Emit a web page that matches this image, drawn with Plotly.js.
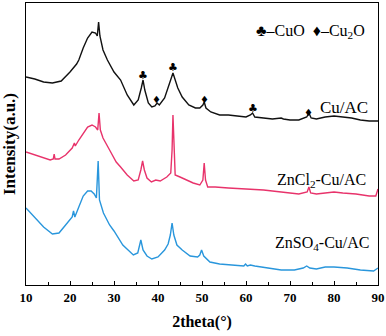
<!DOCTYPE html>
<html>
<head>
<meta charset="utf-8">
<script src="https://cdn.plot.ly/plotly-3.0.1.min.js"></script>
<style>
  html, body { margin: 0; padding: 0; background: #fff; }
  #chart { width: 386px; height: 336px; }
</style>
</head>
<body>
<div id="chart"></div>
<script>
// XRD patterns, intensity in arbitrary units (offset stacked)
var cuX = [10, 12, 14, 16, 18, 20, 21.5, 22, 23, 24, 25, 25.8, 26.2, 26.5, 26.8, 27.5, 28.5, 30, 31.5, 33, 34.5, 35.5, 36.2, 36.6, 37, 37.8, 38.6, 39.3, 39.8, 40.3, 41.5, 42.5, 43.1, 43.4, 43.8, 44.5, 45.5, 47, 48.5, 49.5, 50.2, 50.5, 50.9, 52, 54, 56, 58, 60, 61, 61.5, 62, 64, 66, 68, 68.5, 70, 72, 73.8, 74.3, 74.8, 76, 78, 80, 82, 84, 86, 88, 90];
var cuY = [208, 206, 203, 202, 204, 213, 221, 225, 237, 247, 253, 252, 249, 263, 249, 235, 225, 213, 205, 190, 180, 185, 197, 205, 195, 182, 178, 179, 182, 180, 187, 199, 208, 212, 207, 197, 188, 180, 177, 177, 180, 183, 177, 173, 170, 170, 169, 168, 170, 172, 168, 167, 166, 167, 166, 165, 165, 168, 172, 167, 166, 168, 169, 168, 167, 165, 164, 164];

var zncl2X = [10, 12, 14, 15.5, 16.2, 16.4, 16.6, 17.5, 19, 20.5, 21, 21.2, 22, 23, 24, 25, 25.8, 26.3, 26.6, 26.9, 27.5, 29, 30.5, 31.5, 33, 34.5, 35.5, 36.1, 36.5, 36.9, 37.5, 38.5, 39.5, 40.5, 42, 42.9, 43.2, 43.4, 43.6, 43.9, 45, 46.5, 48, 49.5, 50.2, 50.5, 50.8, 51.3, 53, 56, 60, 64, 68, 72, 73.9, 74.3, 74.7, 76, 78, 80, 82, 85, 88, 89.5, 90];
var zncl2Y = [133, 130, 127, 125, 126, 131, 126, 126, 130, 137, 142, 139, 145, 152, 158, 160, 158, 155, 172, 155, 147, 135, 123, 118, 110, 104, 105, 115, 124, 115, 107, 103, 105, 104, 108, 112, 135, 170, 135, 110, 108, 105, 102, 100, 105, 122, 105, 98, 98, 97, 96, 95, 93, 91, 93, 98, 92, 91, 92, 93, 92, 91, 89, 89, 96];

var znso4X = [10, 12, 14, 16, 17.5, 19, 20.5, 20.8, 21.1, 22, 23, 24, 24.8, 25.5, 26, 26.4, 26.7, 27.6, 29, 30, 32, 34.4, 35.4, 36.1, 36.6, 37.5, 38.6, 40, 41.5, 42.3, 42.8, 43.2, 43.6, 44.3, 45.5, 47.3, 49, 49.5, 49.9, 50.4, 51.8, 54, 57, 59.5, 59.9, 60.3, 61, 62, 65, 68, 71, 73, 73.8, 74.5, 76, 78, 80, 83, 86, 89, 90];
var znso4Y = [77, 67, 58, 51, 52, 60, 68, 74, 68, 78, 89, 94, 94, 91, 87, 124, 85, 72, 60, 54, 40, 30, 32, 45, 35, 29, 26, 28, 35, 41, 50, 62, 50, 40, 35, 29, 28, 30, 35, 29, 23, 21, 20, 19, 21, 19, 20, 19, 17, 15, 15, 17, 19, 17, 16, 18, 18, 17, 15, 14, 17];

var cuoPeaks = [36.6, 43.4, 61.5];
var cuoMarkY = [210, 218, 177];
var cu2oPeaks = [39.7, 50.5, 74.3];
var cu2oMarkY = [186, 186, 173];

var serif = 'Liberation Serif, Times New Roman, serif';

var traces = [
  {x: cuX, y: cuY, name: 'Cu/AC', mode: 'lines', line: {color: '#111111', width: 1.4}},
  {x: zncl2X, y: zncl2Y, name: 'ZnCl2-Cu/AC', mode: 'lines', line: {color: '#e8336b', width: 1.4}},
  {x: znso4X, y: znso4Y, name: 'ZnSO4-Cu/AC', mode: 'lines', line: {color: '#2996dc', width: 1.4}}
];

var annotations = [];
cuoPeaks.forEach(function (p, i) {
  annotations.push({x: p, y: cuoMarkY[i], xref: 'x', yref: 'y', text: '♣', showarrow: false,
    font: {family: 'DejaVu Sans', size: 11, color: '#000'}});
});
cu2oPeaks.forEach(function (p, i) {
  annotations.push({x: p, y: cu2oMarkY[i], xref: 'x', yref: 'y', text: '♦', showarrow: false,
    font: {family: 'DejaVu Sans', size: 10, color: '#000'}});
});
annotations.push(
  {x: 0.969, y: 0.94, xref: 'paper', yref: 'paper', xanchor: 'right', showarrow: false,
   text: '♣–CuO  ♦–Cu<sub>2</sub>O', font: {family: serif, size: 16, color: '#000'}},
  {x: 0.977, y: 0.631, xref: 'paper', yref: 'paper', xanchor: 'right', showarrow: false,
   text: 'Cu/AC', font: {family: serif, size: 17, color: '#000'}},
  {x: 0.972, y: 0.372, xref: 'paper', yref: 'paper', xanchor: 'right', showarrow: false,
   text: 'ZnCl<sub>2</sub>-Cu/AC', font: {family: serif, size: 16, color: '#000'}},
  {x: 0.983, y: 0.106, xref: 'paper', yref: 'paper', xanchor: 'right', showarrow: false,
   text: 'ZnSO<sub>4</sub>-Cu/AC', font: {family: serif, size: 16, color: '#000'}}
);

var layout = {
  width: 386, height: 336,
  margin: {l: 26, r: 8, t: 3, b: 51},
  showlegend: false,
  paper_bgcolor: '#fff', plot_bgcolor: '#fff',
  xaxis: {
    range: [10, 90], dtick: 10, ticks: 'inside', ticklen: 4, tickcolor: '#000',
    minor: {dtick: 5, ticks: 'inside', ticklen: 3, tickcolor: '#000'},
    showgrid: false, zeroline: false, showline: true, linecolor: '#000', linewidth: 1.2, mirror: true,
    tickfont: {family: serif, size: 13, color: '#000', weight: 'bold'},
    title: {text: '<b>2theta(°)</b>', font: {family: serif, size: 16, color: '#000'}, standoff: 12}
  },
  yaxis: {
    range: [0, 282], showticklabels: false, ticks: '',
    showgrid: false, zeroline: false, showline: true, linecolor: '#000', linewidth: 1.2, mirror: true,
    title: {text: '<b>Intensity(a.u.)</b>', font: {family: serif, size: 17, color: '#000'}, standoff: 4}
  },
  annotations: annotations
};

Plotly.newPlot('chart', traces, layout, {displayModeBar: false, staticPlot: true});
</script>
</body>
</html>
